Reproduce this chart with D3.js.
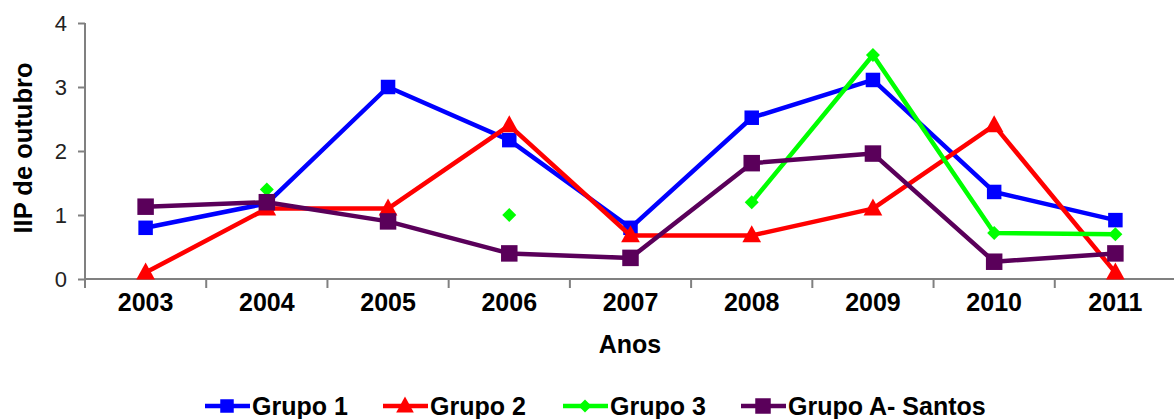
<!DOCTYPE html>
<html><head><meta charset="utf-8">
<script src="https://cdn.jsdelivr.net/npm/d3@7"></script>
<style>
html,body{margin:0;padding:0;background:#fff;}
svg{display:block;font-family:"Liberation Sans",Arial,sans-serif;}
</style></head>
<body><svg id="c" width="1174" height="419"></svg>
<script>
const years = ["2003","2004","2005","2006","2007","2008","2009","2010","2011"];
const grupo1 = [0.80, 1.18, 3.00, 2.17, 0.80, 2.52, 3.11, 1.36, 0.92];
const grupo2 = [0.10, 1.10, 1.10, 2.40, 0.68, 0.68, 1.10, 2.40, 0.10];
const grupo3 = [null, 1.40, null, 1.00, null, 1.20, 3.50, 0.72, 0.70];
const grupoA = [1.13, 1.20, 0.90, 0.40, 0.33, 1.81, 1.96, 0.27, 0.40];
const yTicks = [0, 1, 2, 3, 4];
const seriesNames = ["Grupo 1", "Grupo 2", "Grupo 3", "Grupo A- Santos"];
const seriesColors = ["#0000ff", "#ff0000", "#00ff00", "#5a005a"];
const seriesShapes = ["square", "triangle", "diamond", "square"];
const markerSizes = [14.5, 17, 14, 16.5];

const seriesVals = [grupo1, grupo2, grupo3, grupoA];
const svg = d3.select("#c");
const x = d3.scaleBand().domain(years).range([85, 1176]);
const y = d3.scaleLinear().domain([0, 4]).range([279, 23]);

// y axis
const ya = svg.append("g").attr("transform","translate(85,0)")
  .call(d3.axisLeft(y).tickValues(yTicks).tickSize(7).tickPadding(11).tickFormat(d3.format("d")));
ya.select(".domain").attr("stroke","#808080").attr("stroke-width",2).attr("d","M0,23V279");
ya.selectAll(".tick line").attr("stroke","#808080").attr("stroke-width",2);
ya.selectAll("text").attr("font-size",22).attr("fill","#222").attr("font-family","Liberation Sans, Arial, sans-serif");

// x axis
const xa = svg.append("g").attr("transform","translate(0,279)")
  .call(d3.axisBottom(x).tickSize(0).tickPadding(14));
xa.select(".domain").attr("stroke","#808080").attr("stroke-width",2).attr("d","M85,0H1174");
xa.selectAll("text").attr("font-size",25).attr("font-weight","bold").attr("fill","#000").attr("font-family","Liberation Sans, Arial, sans-serif");
// band boundary ticks
const bounds = years.map(d => x(d));
svg.append("g").selectAll("line").data(bounds).join("line")
  .attr("x1", d => d).attr("x2", d => d).attr("y1", 279).attr("y2", 288)
  .attr("stroke","#808080").attr("stroke-width",2);

// axis titles
svg.append("text").attr("x", 630).attr("y", 353).attr("text-anchor","middle")
  .attr("font-size",25).attr("font-weight","bold").text("Anos");
svg.append("text").attr("transform","translate(32,148) rotate(-90)").attr("text-anchor","middle")
  .attr("font-size",25.5).attr("font-weight","bold").text("IIP de outubro");

function sym(shape, s){
  const h = s/2;
  if (shape === "square") return `M${-h},${-h}H${h}V${h}H${-h}Z`;
  if (shape === "triangle") return `M0,${-s*0.6}L${s*0.55},${s*0.4}H${-s*0.55}Z`;
  return `M0,${-h}L${h},0L0,${h}L${-h},0Z`;
}

const cx = d => x(d) + x.bandwidth()/2;
seriesVals.forEach((vals, i) => {
  const pts = years.map((yr, j) => ({yr, v: vals[j]}));
  const line = d3.line().defined(p => p.v !== null).x(p => cx(p.yr)).y(p => y(p.v));
  const g = svg.append("g");
  g.append("path").attr("d", line(pts)).attr("fill","none")
    .attr("stroke", seriesColors[i]).attr("stroke-width",4.5).attr("stroke-linejoin","round");
  g.selectAll("path.m").data(pts.filter(p => p.v !== null)).join("path").attr("class","m")
    .attr("transform", p => `translate(${cx(p.yr)},${y(p.v)})`)
    .attr("d", sym(seriesShapes[i], markerSizes[i])).attr("fill", seriesColors[i]);
});

// legend
const legX = [205, 383, 563, 741];
const lg = svg.append("g");
seriesNames.forEach((n, i) => {
  const g = lg.append("g").attr("transform", `translate(${legX[i]},406)`);
  g.append("line").attr("x1",0).attr("x2",45).attr("y1",0).attr("y2",0)
    .attr("stroke", seriesColors[i]).attr("stroke-width",4.5);
  g.append("path").attr("transform", "translate(22,0)").attr("d", sym(seriesShapes[i], markerSizes[i]-1)).attr("fill", seriesColors[i]);
  g.append("text").attr("x", 47).attr("y", 9).attr("font-size",25).attr("font-weight","bold").attr("fill","#000").text(n);
});
</script></body></html>
